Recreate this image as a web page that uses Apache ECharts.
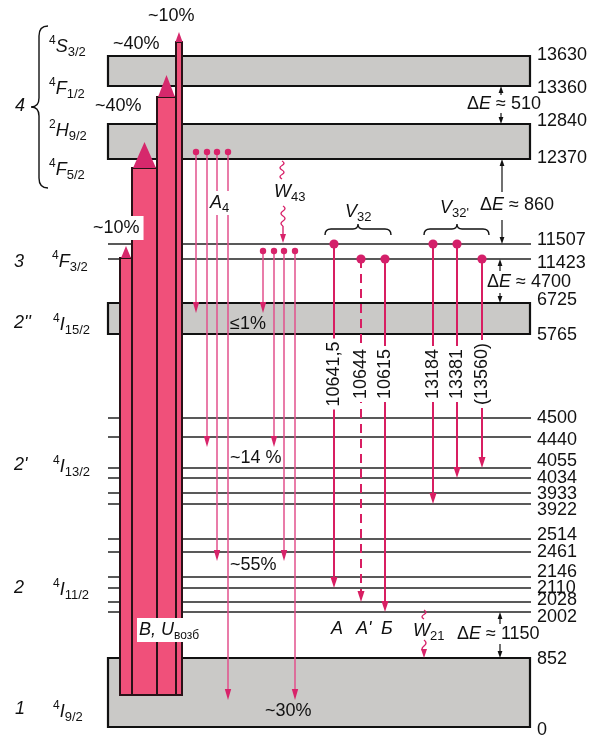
<!DOCTYPE html>
<html>
<head>
<meta charset="utf-8">
<script src="https://cdn.jsdelivr.net/npm/echarts@6/dist/echarts.min.js"></script>
<style>
  html, body { margin: 0; padding: 0; background: #fff; }
  #chart { width: 604px; height: 735px; }
</style>
</head>
<body>
<div id="chart"></div>
<script>
/* энергетические уровни, см^-1, и их место на схеме (шкала схемы 0..735 сверху вниз) */
const levelEnergy = [13630, 13360, 12840, 12370, 11507, 11423, 6725, 5765, 4500, 4440, 4055, 4034, 3933, 3922, 2514, 2461, 2146, 2110, 2028, 2002, 852, 0]
const levelPos = [56, 86, 124, 159, 244, 259, 303, 334, 418, 437, 468, 478, 493, 504, 539, 552, 577, 588, 602, 612, 658, 727]

/* полосы (верх, низ) и одиночные подуровни */
const bandLevels = [[13630, 13360], [12840, 12370], [6725, 5765], [852, 0]]
const thinLevels = [11507, 11423, 4500, 4440, 4055, 4034, 3933, 3922, 2514, 2461, 2146, 2110, 2028, 2002]

/* генерационные переходы: с уровня, на уровень, длина волны (Å) */
const laserFrom = [11507, 11423, 11423, 11507, 11507, 11423]
const laserTo = [2110, 2028, 2002, 3922, 4034, 4055]
const laserWave = ['10641,5', '10644', '10615', '13184', '13381', '(13560)']
const laserDashed = [false, true, false, false, false, false]

/* полосы накачки */
const pumpShare = ['~10%', '~40%', '~40%', '~10%']

/* спонтанные переходы A4 (начало, конец на схеме) */
const decayFrom = [152, 152, 152, 152, 251, 251, 251, 251]
const decayTo = [313, 447, 561, 700, 313, 447, 561, 700]

const FONT = '"Liberation Sans", Arial, Helvetica, sans-serif'

/* раскладка */
const BAND_L = 108
const BAND_R = 530
const LABEL_X = 537
const labelShift = [-1, 2, -3, -1, -4, 4, -3, 1, 0, 3, -7, 0, 1, 6, -4, 0, -5, 0, -2, 5, 1, 3]
const laserX = [334, 361, 385, 433, 457, 482]
const decayX = [196, 207, 217, 228, 263, 274, 284, 295]
const pumpLeft = [120, 132, 157, 176]
const pumpRight = [132, 157, 176, 182]
const pumpTop = [258, 168, 97, 42]
const pumpTip = [246, 142, 75, 32]
const PUMP_BOTTOM = 695

const posOf = e => levelPos[levelEnergy.indexOf(e)]

const rich = {
  i: { fontFamily: FONT, fontSize: 18, fontStyle: 'italic', lineHeight: 24, fill: '#111' },
  n: { fontFamily: FONT, fontSize: 18, lineHeight: 24, fill: '#111' },
  sup: { fontFamily: FONT, fontSize: 12, lineHeight: 12, verticalAlign: 'top', fill: '#111' },
  sub: { fontFamily: FONT, fontSize: 13, lineHeight: 12, verticalAlign: 'bottom', fill: '#111' },
  sm: { fontFamily: FONT, fontSize: 12, lineHeight: 12, verticalAlign: 'bottom', fill: '#111' }
}

/* подписи: x, y, текст, белая подложка */
const notes = [
  [148, 16, pumpShare[3], false],
  [113, 44, pumpShare[2], false],
  [95, 106, pumpShare[1], false],
  [91, 228, pumpShare[0], true],
  [230, 324, '≤1%', false],
  [230, 458, '~14 %', false],
  [230, 565, '~55%', false],
  [265, 711, '~30%', false],
  [208, 203, '{i|A}{sub|4}', true],
  [274, 192, '{i|W}{sub|43}', false],
  [345, 212, '{i|V}{sub|32}', false],
  [440, 208, "{i|V}{sub|32'}", false],
  [467, 104, '{n|Δ}{i|E}{n| ≈ 510}', false],
  [480, 205, '{n|Δ}{i|E}{n| ≈ 860}', false],
  [487, 282, '{n|Δ}{i|E}{n| ≈ 4700}', false],
  [457, 634, '{n|Δ}{i|E}{n| ≈ 1150}', false],
  [331, 629, '{i|А}', false],
  [356, 629, "{i|А'}", false],
  [381, 629, '{i|Б}', false],
  [413, 631, '{i|W}{sub|21}', false],
  [137, 630, '{i|В, U}{sm|возб}', true],
  [15, 106, '{i|4}', false],
  [49, 47, '{sup|4}{i|S}{sub|3/2}', false],
  [49, 89, '{sup|4}{i|F}{sub|1/2}', false],
  [49, 131, '{sup|2}{i|H}{sub|9/2}', false],
  [49, 170, '{sup|4}{i|F}{sub|5/2}', false],
  [14, 262, '{i|3}', false],
  [52, 262, '{sup|4}{i|F}{sub|3/2}', false],
  [14, 323, "{i|2''}", false],
  [53, 325, '{sup|4}{i|I}{sub|15/2}', false],
  [14, 465, "{i|2'}", false],
  [53, 467, '{sup|4}{i|I}{sub|13/2}', false],
  [14, 588, '{i|2}', false],
  [53, 590, '{sup|4}{i|I}{sub|11/2}', false],
  [15, 709, '{i|1}', false],
  [53, 712, '{sup|4}{i|I}{sub|9/2}', false]
]

/* стрелки ΔE: x, хвост, острие */
const gapArrows = [
  [501, 95, 86], [501, 113, 124],
  [502, 192, 159], [502, 220, 244],
  [500, 271, 259], [500, 293, 303],
  [500, 624, 612], [500, 644, 658]
]

/* фигурные скобки */
const braces = [
  ['left', 48, 26, 188, 31],
  ['up', 325, 231, 391, 358],
  ['up', 424, 231, 489, 457]
]

/* волнистые стрелки W: x, начало, конец, острие */
const wavy = [
  [282, 161, 179, null],
  [283, 206, 226, 243],
  [424, 610, 619, null],
  [424, 640, 652, 658]
]

const head = (x, y, dir, len, hw, color) => ({
  type: 'polygon',
  shape: { points: [[x, y], [x - hw, y - dir * len], [x + hw, y - dir * len]] },
  style: { fill: color }
})

const base = {
  type: 'custom',
  coordinateSystem: 'cartesian2d',
  silent: true,
  animation: false
}

const myChart = echarts.init(document.getElementById('chart'))
myChart.setOption({
  animation: false,
  grid: { left: 0, right: 0, top: 0, bottom: 0 },
  xAxis: { type: 'value', min: 0, max: 604, show: false },
  yAxis: { type: 'value', min: 0, max: 735, inverse: true, show: false },
  series: [
    // полосы
    {
      ...base,
      z: 1,
      data: bandLevels.map(p => [posOf(p[0]), posOf(p[1])]),
      renderItem: (params, api) => {
        const a = api.coord([BAND_L, api.value(0)])
        const b = api.coord([BAND_R, api.value(1)])
        return {
          type: 'rect',
          shape: { x: a[0], y: a[1], width: b[0] - a[0], height: b[1] - a[1] },
          style: { fill: '#cac9c7', stroke: '#111', lineWidth: 2.2 }
        }
      }
    },
    // подуровни
    {
      ...base,
      z: 2,
      data: thinLevels.map(e => [posOf(e), e]),
      renderItem: (params, api) => {
        const a = api.coord([BAND_L, api.value(0)])
        const b = api.coord([BAND_R + 1, api.value(0)])
        return {
          type: 'line',
          shape: { x1: a[0], y1: a[1], x2: b[0], y2: b[1] },
          style: { stroke: '#222', lineWidth: 1.5 }
        }
      }
    },
    // подписи энергий
    {
      ...base,
      z: 3,
      data: levelEnergy.map((e, i) => [LABEL_X, levelPos[i] + labelShift[i], e]),
      renderItem: (params, api) => {
        const p = api.coord([api.value(0), api.value(1)])
        const e = api.value(2)
        return {
          type: 'text',
          x: p[0],
          y: p[1],
          style: {
            text: String(e),
            fontFamily: FONT,
            fontSize: 18,
            fill: '#111',
            align: 'left',
            verticalAlign: 'middle'
          }
        }
      }
    },
    // накачка
    {
      ...base,
      z: 4,
      data: pumpLeft.map((l, i) => [l, pumpRight[i], pumpTop[i], pumpTip[i]]),
      renderItem: (params, api) => {
        const a = api.coord([api.value(0), api.value(2)])
        const b = api.coord([api.value(1), PUMP_BOTTOM])
        const t = api.coord([0, api.value(3)])
        const cx = (a[0] + b[0]) / 2
        const hw = Math.max(3.6, (b[0] - a[0]) / 2 - 1)
        return {
          type: 'group',
          children: [
            {
              type: 'rect',
              shape: { x: a[0], y: a[1], width: b[0] - a[0], height: b[1] - a[1] },
              style: { fill: '#f0507a', stroke: '#2a1218', lineWidth: 2 }
            },
            {
              type: 'polygon',
              shape: { points: [[cx, t[1]], [cx - hw, a[1]], [cx + hw, a[1]]] },
              style: { fill: '#d6286c' }
            }
          ]
        }
      }
    },
    // спонтанные переходы
    {
      ...base,
      z: 5,
      data: decayX.map((x, i) => [x, decayFrom[i], decayTo[i]]),
      renderItem: (params, api) => {
        const a = api.coord([api.value(0), api.value(1)])
        const b = api.coord([api.value(0), api.value(2)])
        return {
          type: 'group',
          children: [
            {
              type: 'line',
              shape: { x1: a[0], y1: a[1], x2: b[0], y2: b[1] - 8 },
              style: { stroke: '#e2508c', lineWidth: 1.5 }
            },
            head(b[0], b[1], 1, 11, 3.2, '#d8236a'),
            { type: 'circle', shape: { cx: a[0], cy: a[1], r: 3.2 }, style: { fill: '#d8236a' } }
          ]
        }
      }
    },
    // генерационные переходы
    {
      ...base,
      z: 6,
      data: laserX.map((x, i) => [x, posOf(laserFrom[i]), posOf(laserTo[i]), laserDashed[i] ? 1 : 0]),
      renderItem: (params, api) => {
        const a = api.coord([api.value(0), api.value(1)])
        const b = api.coord([api.value(0), api.value(2)])
        const dashed = api.value(3) === 1
        const m = api.coord([api.value(0), 374])
        return {
          type: 'group',
          children: [
            {
              type: 'line',
              shape: { x1: a[0], y1: a[1], x2: b[0], y2: b[1] - 8 },
              style: { stroke: '#d81e62', lineWidth: 2, lineDash: dashed ? [9, 6] : null }
            },
            head(b[0], b[1], 1, 11, 3.5, '#d81e62'),
            { type: 'circle', shape: { cx: a[0], cy: a[1], r: 4.6 }, style: { fill: '#d4206a' } },
            {
              type: 'text',
              x: m[0],
              y: m[1],
              rotation: Math.PI / 2,
              style: {
                text: laserWave[params.dataIndex],
                fontFamily: FONT,
                fontSize: 18,
                fill: '#111',
                align: 'center',
                verticalAlign: 'middle',
                backgroundColor: '#fff',
                padding: [1, 3, 1, 3]
              }
            }
          ]
        }
      }
    },
    // стрелки ΔE
    {
      ...base,
      z: 6,
      data: gapArrows,
      renderItem: (params, api) => {
        const a = api.coord([api.value(0), api.value(1)])
        const b = api.coord([api.value(0), api.value(2)])
        const dir = b[1] > a[1] ? 1 : -1
        return {
          type: 'group',
          children: [
            {
              type: 'line',
              shape: { x1: a[0], y1: a[1], x2: b[0], y2: b[1] - dir * 5 },
              style: { stroke: '#111', lineWidth: 1.2 }
            },
            head(b[0], b[1], dir, 7, 2.4, '#111')
          ]
        }
      }
    },
    // скобки
    {
      ...base,
      z: 6,
      data: braces.map(b => [b[1], b[2], b[3], b[4]]),
      renderItem: (params, api) => {
        const kind = braces[params.dataIndex][0]
        let d
        if (kind === 'left') {
          const p = api.coord([api.value(0), api.value(1)])
          const q = api.coord([api.value(0), api.value(2)])
          const tip = api.coord([api.value(3), (api.value(1) + api.value(2)) / 2])
          const sx = p[0] - 9
          const my = tip[1]
          d = `M${p[0]},${p[1]} Q${sx},${p[1]} ${sx},${p[1] + 10} L${sx},${my - 9} Q${sx},${my} ${tip[0]},${my}` +
            ` Q${sx},${my} ${sx},${my + 9} L${sx},${q[1] - 10} Q${sx},${q[1]} ${q[0]},${q[1]}`
        } else {
          const p = api.coord([api.value(0), api.value(1)])
          const q = api.coord([api.value(2), api.value(1)])
          const mx = api.coord([api.value(3), 0])[0]
          const y = p[1] - 2
          d = `M${p[0]},${p[1] + 4} Q${p[0]},${y} ${p[0] + 6},${y} L${mx - 5},${y} Q${mx},${y} ${mx},${y - 5}` +
            ` Q${mx},${y} ${mx + 5},${y} L${q[0] - 6},${y} Q${q[0]},${y} ${q[0]},${p[1] + 4}`
        }
        return {
          type: 'path',
          shape: { pathData: d },
          style: { fill: null, stroke: '#111', lineWidth: 1.4 }
        }
      }
    },
    // волнистые стрелки
    {
      ...base,
      z: 6,
      data: wavy.map(w => [w[0], w[1], w[2]]),
      renderItem: (params, api) => {
        const a = api.coord([api.value(0), api.value(1)])
        const b = api.coord([api.value(0), api.value(2)])
        const steps = Math.max(2, Math.round((b[1] - a[1]) / 5))
        const h = (b[1] - a[1]) / steps
        let d = `M${a[0]},${a[1]}`
        for (let i = 0; i < steps; i++) {
          const s = i % 2 === 0 ? 4 : -4
          d += ` Q${a[0] + s},${a[1] + h * i + h / 2} ${a[0]},${a[1] + h * (i + 1)}`
        }
        const children = [{
          type: 'path',
          shape: { pathData: d },
          style: { fill: null, stroke: '#d8236a', lineWidth: 1.4 }
        }]
        const tipY = wavy[params.dataIndex][3]
        if (tipY !== null) {
          const t = api.coord([api.value(0), tipY])
          children.push({
            type: 'line',
            shape: { x1: b[0], y1: b[1], x2: t[0], y2: t[1] - 6 },
            style: { stroke: '#d8236a', lineWidth: 1.4 }
          })
          children.push(head(t[0], t[1], 1, 9, 3, '#d8236a'))
        }
        return { type: 'group', children }
      }
    },
    // подписи
    {
      ...base,
      z: 10,
      data: notes.map(n => [n[0], n[1]]),
      renderItem: (params, api) => {
        const p = api.coord([api.value(0), api.value(1)])
        const n = notes[params.dataIndex]
        return {
          type: 'text',
          x: p[0],
          y: p[1],
          style: {
            text: n[2],
            rich,
            fontFamily: FONT,
            fontSize: 18,
            lineHeight: 24,
            fill: '#111',
            align: 'left',
            verticalAlign: 'middle',
            backgroundColor: n[3] ? '#fff' : null,
            padding: n[3] ? [0, 4, 0, 2] : 0
          }
        }
      }
    }
  ]
})
</script>
</body>
</html>
